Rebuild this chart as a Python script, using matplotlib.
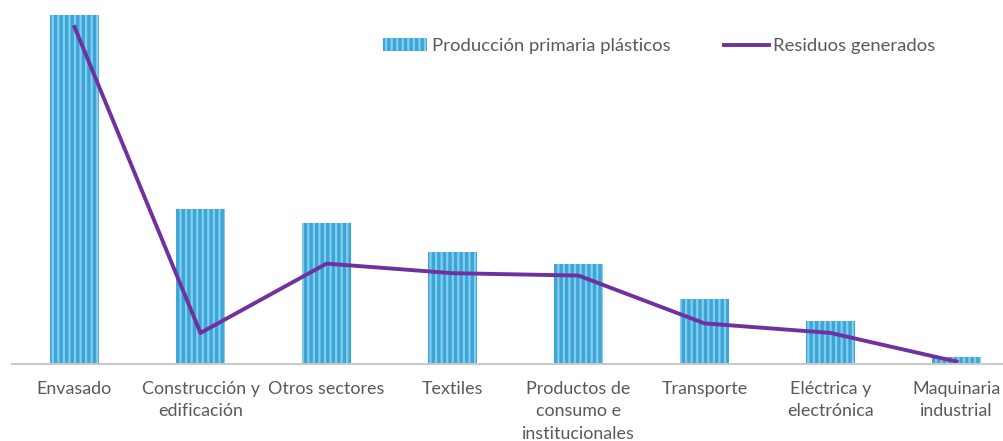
import matplotlib.pyplot as plt
import numpy as np

# Sectores y valores (Mt)
sectores = ['Envasado', 'Construcción y\nedificación', 'Otros sectores', 'Textiles',
            'Productos de\nconsumo e\ninstitucionales', 'Transporte',
            'Eléctrica y\nelectrónica', 'Maquinaria\nindustrial']
produccion = [146, 65, 59, 47, 42, 27, 18, 3]
residuos = [141, 13, 42, 38, 37, 17, 13, 1]

plt.rcParams['font.family'] = ['Lato', 'DejaVu Sans']
plt.rcParams['hatch.linewidth'] = 1.6
plt.rcParams['hatch.color'] = '#86CDEC'

fig = plt.figure(figsize=(10.04, 4.41), dpi=100)
# el eje sigue un poco más allá del borde derecho
ax = fig.add_axes([11.5 / 1004, 77 / 441, 1008 / 1004, 364 / 441])

x = np.arange(len(sectores))
barras = ax.bar(x, produccion, width=0.39, color='#3AA5D9', hatch='|||', linewidth=0,
                label='Producción primaria plásticos')
linea, = ax.plot(x, residuos, color='#7030A0', linewidth=2.8, label='Residuos generados')

ax.set_xlim(-0.5, 7.5)
ax.set_ylim(0, 152.3)
ax.set_yticks([])
ax.set_xticks(x)
ax.set_xticklabels(sectores, fontsize=12.9, color='#595959', linespacing=1.52)
ax.tick_params(axis='x', length=0, pad=12)
for s in ['top', 'right', 'left']:
    ax.spines[s].set_visible(False)
ax.spines['bottom'].set_color('#C8C8C8')
ax.spines['bottom'].set_linewidth(1.5)

ax.legend(handles=[barras, linea], loc='center left',
          bbox_to_anchor=(355 / 1008, 1 - 46 / 364), ncol=2, frameon=False,
          fontsize=13.3, labelcolor='#595959', handlelength=2.4, handletextpad=0.25,
          columnspacing=2.9)

fig.savefig('out.png', dpi=100)
